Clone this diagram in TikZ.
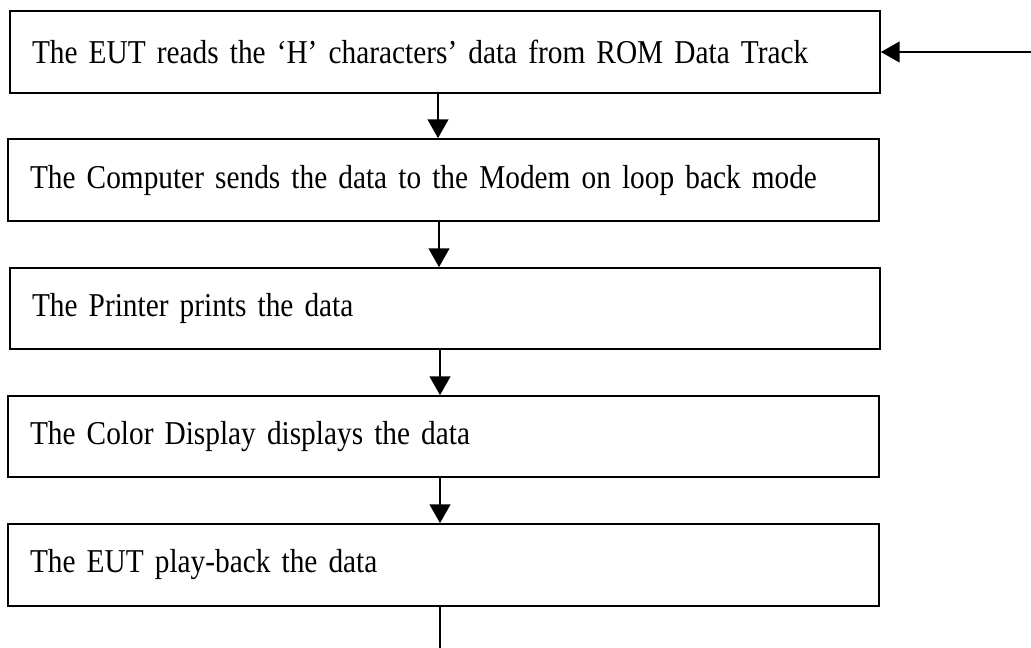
\documentclass[tikz,border=0pt]{standalone}
\usepackage{fontspec}
\setmainfont{Liberation Serif}
\newfontfamily\boxfont[FakeStretch=0.88,WordSpace=0.6]{Liberation Serif}
\usetikzlibrary{arrows.meta}
\tikzset{
  stepbox/.style={draw=black, line width=1.3pt, rectangle, inner xsep=16.5pt, inner ysep=0pt,
    align=left, font=\boxfont\fontsize{25pt}{30pt}\selectfont, text=black},
  flowarrow/.style={line width=1.3pt, -{Triangle[length=14pt,width=15.5pt]}},
  plainline/.style={line width=1.3pt}
}
\begin{document}
\begin{tikzpicture}[x=0.75pt,y=-0.75pt]
\useasboundingbox (0,0) rectangle (1031,648);
\node[stepbox, minimum height=61.5pt, text width=619.5pt] (b1) at (445,52) {The EUT reads the ‘H’ characters’ data from ROM Data Track};
\node[stepbox, minimum height=61.5pt, text width=620.25pt] (b2) at (443.5,180) {The Computer sends the data to the Modem on loop back mode};
\node[stepbox, minimum height=60.75pt, text width=619.5pt] (b3) at (445,308.5) {The Printer prints the data};
\node[stepbox, minimum height=60.75pt, text width=620.25pt] (b4) at (443.5,436.5) {The Color Display displays the data};
\node[stepbox, minimum height=61.5pt, text width=620.25pt] (b5) at (443.5,565) {The EUT play-back the data};
\coordinate (a1) at (438,0);
\coordinate (a2) at (439,0);
\coordinate (a3) at (440,0);
\coordinate (a4) at (440,0);
\coordinate (fb) at (1031,52);
\coordinate (tail) at (440,648);
\draw[flowarrow] (a1 |- b1.south) -- (a1 |- b2.north);
\draw[flowarrow] (a2 |- b2.south) -- (a2 |- b3.north);
\draw[flowarrow] (a3 |- b3.south) -- (a3 |- b4.north);
\draw[flowarrow] (a4 |- b4.south) -- (a4 |- b5.north);
\draw[flowarrow] (fb) -- (b1.east);
\draw[plainline] (tail |- b5.south) -- (tail);
\end{tikzpicture}
\end{document}
